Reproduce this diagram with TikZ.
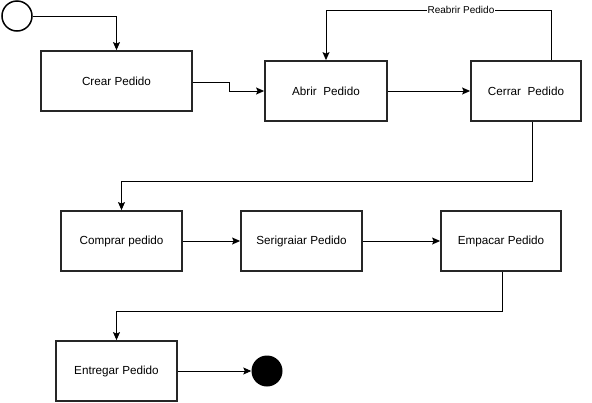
\documentclass[tikz,border=0pt]{standalone}
\usepackage{fontspec}
\setmainfont{Liberation Sans}
\usetikzlibrary{arrows.meta}

\begin{document}
\begin{tikzpicture}[x=1pt,y=-1pt,
  estado/.style={draw=black!85,line width=1.8pt,fill=white,inner sep=0pt,
    minimum height=60pt,font=\fontsize{11.7}{14}\selectfont},
  flecha/.style={-{Stealth[length=8pt,width=7pt,inset=1.5pt]},line width=.9pt},
  etiqueta/.style={fill=white,inner sep=1pt,font=\fontsize{10}{12}\selectfont}]
\useasboundingbox (0,0) rectangle (592,402);

% estados
\node[draw,circle,line width=1.5pt,minimum size=30pt,inner sep=0pt] (inicio) at (17,16) {};
\node[estado,minimum width=151pt] (crear) at (116.5,81) {Crear Pedido};
\node[estado,minimum width=122pt] (abrir) at (326,91) {Abrir\ \ Pedido};
\node[estado,minimum width=110pt] (cerrar) at (526,91) {Cerrar\ \ Pedido};
\node[estado,minimum width=121pt] (comprar) at (121.5,241) {Comprar pedido};
\node[estado,minimum width=121pt] (serigraiar) at (301.5,241) {Serigraiar Pedido};
\node[estado,minimum width=120pt] (empacar) at (501,241) {Empacar Pedido};
\node[estado,minimum width=121pt] (entregar) at (116.5,371) {Entregar Pedido};
\node[circle,fill=black,minimum size=31pt,inner sep=0pt] (fin) at (267,371) {};

% transiciones
\draw[flecha] (inicio.east) -| (crear.north);
\draw[flecha] ([yshift=-1]crear.east) -- ++(37,0) |- (abrir.west);
\draw[flecha] (abrir) -- (cerrar);
\draw[flecha] ([xshift=25]cerrar.north) -- ++(0,-50) -| node[etiqueta,pos=.2] {Reabrir Pedido} (abrir.north);
\draw[flecha] ([xshift=6]cerrar.south) -- ++(0,60) -| (comprar.north);
\draw[flecha] (comprar) -- (serigraiar);
\draw[flecha] (serigraiar) -- (empacar);
\draw[flecha] ([xshift=1]empacar.south) -- ++(0,40) -| (entregar.north);
\draw[flecha] (entregar) -- (fin);

\end{tikzpicture}
\end{document}
